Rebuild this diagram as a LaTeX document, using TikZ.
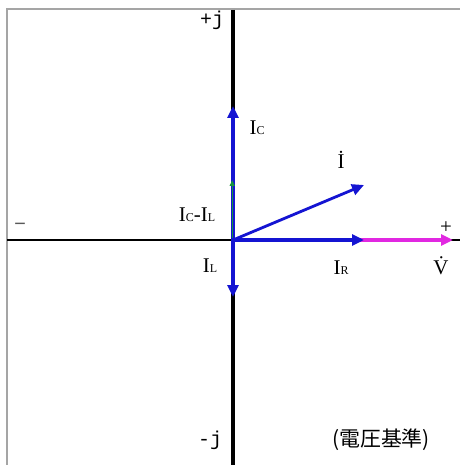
\documentclass[tikz,border=0pt]{standalone}
\usepackage{fontspec}
\setmainfont{Liberation Serif}
\newfontfamily\cjk{Noto Sans CJK JP}
\newfontfamily\monof{Liberation Mono}
\usetikzlibrary{arrows.meta}
\definecolor{vblue}{RGB}{20,20,210}
\definecolor{vmag}{RGB}{225,40,225}
\definecolor{vgreen}{RGB}{20,150,60}
\definecolor{frame}{RGB}{165,165,165}
\newcommand{\Isub}[1]{I{\fontsize{12}{12}\selectfont #1}}
\tikzset{
  vec/.style={line width=3.4bp,-{Triangle[length=12bp,width=11bp]}},
  lbl/.style={font=\fontsize{21}{21}\selectfont,inner sep=0pt},
  jlbl/.style={font=\monof\fontsize{20}{20}\selectfont,inner sep=0pt},
}
\begin{document}
\begin{tikzpicture}[x=1bp,y=-1bp]
\useasboundingbox (0,0) rectangle (460,465);
\fill[white] (0,0) rectangle (460,465);
% frame
\draw[frame,line width=2bp] (7,465) -- (7,9) -- (460,9);
% axes
\coordinate (O) at (233,240);
\coordinate (xl) at (7,240);
\coordinate (xr) at (460,240);
\coordinate (yt) at (233,10);
\coordinate (yb) at (233,465);
\draw[black,line width=2.4bp] (xl) -- (xr);
\draw[black,line width=4bp] (yt) -- (yb);
% vector ends
\coordinate (V) at (453,240);
\coordinate (IR) at (364,240);
\coordinate (IC) at (233,106);
\coordinate (IL) at (233,297);
\coordinate (I) at (364,185);
\draw[vec,vmag] (O) -- (V);
\draw[vec,vblue] (O) -- (IR);
\draw[vec,vblue] (O) -- (IC);
\draw[vec,vblue] (O) -- (IL);
\draw[line width=2.8bp,vblue,-{Triangle[length=12bp,width=11bp]}] (O) -- (I);
\draw[vgreen,line width=1.2bp,-{Triangle[length=6bp,width=5bp]}] (232.2,238) -- (232.2,180);
% labels
\node[jlbl] (pj) at (212,20) {+j};
\node[jlbl] (mj) at (210,440) {-j};
\node[lbl] (lic) at (257,128) {\Isub{C}};
\node[lbl] (li) at (341,160) {\.{I}};
\node[lbl] (licl) at (197,215) {\Isub{C}-\Isub{L}};
\node[jlbl,text=black!65] (minus) at (20,227) {−};
\node[lbl] (plus) at (446,228) {+};
\node[lbl] (lir) at (341,268) {\Isub{R}};
\node[lbl] (lv) at (441,266) {\.{V}};
\node[lbl] (lil) at (210,266) {\Isub{L}};
\node[font=\cjk\fontsize{21}{21}\selectfont,inner sep=0pt] (ref) at (381,440) {(電圧基準)};
\end{tikzpicture}
\end{document}
